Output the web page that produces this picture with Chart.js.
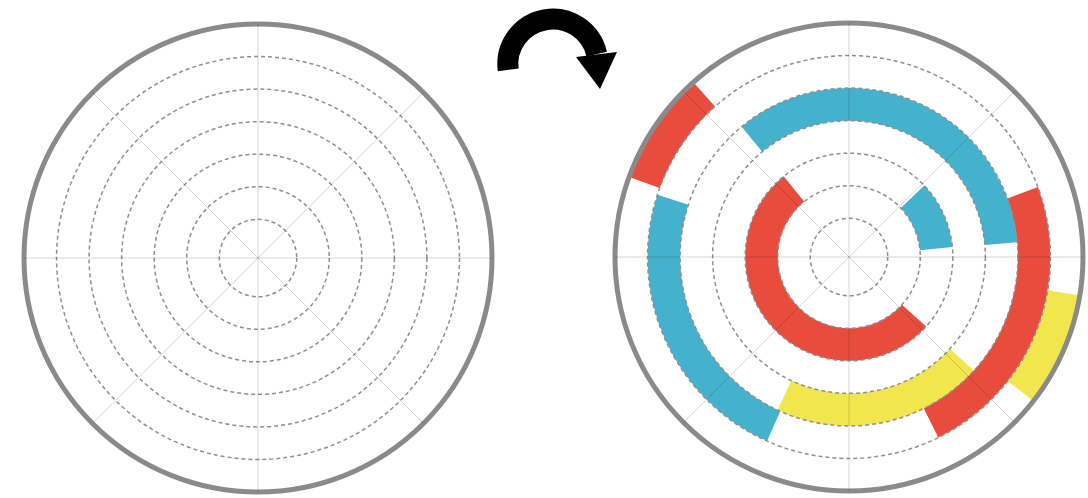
<!DOCTYPE html>
<html>
<head>
<meta charset="utf-8">
<script src="https://cdn.jsdelivr.net/npm/chart.js@4/dist/chart.umd.min.js"></script>
<style>
  body { margin: 0; background: #fff; }
  #stage { position: relative; width: 1088px; height: 498px; overflow: hidden; }
  canvas, svg { position: absolute; }
  #leftGrid { left: 20px; top: 20px; }
  #rightArcs, #rightGrid { left: 611px; top: 19px; }
  #arrow { left: 0; top: 0; }
</style>
</head>
<body>
<div id="stage">
  <canvas id="leftGrid" width="476" height="476"></canvas>
  <canvas id="rightArcs" width="476" height="476"></canvas>
  <canvas id="rightGrid" width="476" height="476"></canvas>
  <svg id="arrow" width="1088" height="120">
    <path d="M 508.2 69.9 A 45 45 0 0 1 596.7 54.1" fill="none" stroke="#000" stroke-width="21"/>
    <polygon points="576,57 617,52 600,89" fill="#000"/>
  </svg>
</div>
<script>
// radial grid: dashed rings at 1..6, solid rim at 7, 8 spokes
const ringValues = [1, 2, 3, 4, 5, 6, 7];
const spokeLabels = ['N', 'NE', 'E', 'SE', 'S', 'SW', 'W', 'NW'];
const scaleMin = -0.19;
const scaleMax = 7;

// arcs on the right chart: band = ring the arc sits on (band b spans ring b..b+1),
// angles in degrees clockwise from the top
const arcSeries = ['red', 'yellow', 'red', 'blue', 'blue', 'yellow', 'red', 'blue'];
const arcBand   = [6, 6, 5, 5, 4, 4, 2, 2];
const arcStart  = [290, 99.5, 69.7, 204, 320.5, 132.3, 132, 46.5];
const arcEnd    = [318.3, 128, 153.7, 288, 85, 205, 321, 84.5];
const bands     = [6, 5, 4, 3, 2, 1];

const palette = { red: '#e84c3d', blue: '#45b2cd', yellow: '#f2e64e' };
const clear = 'rgba(0,0,0,0)';

function gridChart(id) {
    return new Chart(document.getElementById(id), {
        type: 'polarArea',
        data: { labels: spokeLabels, datasets: [] },
        options: {
            responsive: false,
            animation: false,
            events: [],
            layout: { padding: 4 },
            plugins: { legend: { display: false }, tooltip: { enabled: false } },
            scales: {
                r: {
                    min: scaleMin,
                    max: scaleMax,
                    afterBuildTicks: s => { s.ticks = ringValues.map(v => ({ value: v })); },
                    ticks: { display: false },
                    pointLabels: { display: false },
                    grid: {
                        circular: true,
                        color: c => c.tick.value === scaleMax ? '#8a8a8a' : '#8f8f8f',
                        lineWidth: c => c.tick.value === scaleMax ? 5 : 1.5
                    },
                    border: { dash: c => c.tick.value === scaleMax ? [] : [4, 3] },
                    angleLines: { display: true, color: 'rgba(0,0,0,0.16)', lineWidth: 1 }
                }
            }
        }
    });
}

function bandSegments(band) {
    const idx = arcBand.map((b, i) => i).filter(i => arcBand[i] === band)
        .sort((a, b) => arcStart[a] - arcStart[b]);
    if (!idx.length) return { rotation: 0, data: [360], colors: [clear] };
    const data = [], colors = [];
    idx.forEach((i, k) => {
        const next = idx[(k + 1) % idx.length];
        data.push((arcEnd[i] - arcStart[i] + 360) % 360);
        colors.push(palette[arcSeries[i]]);
        data.push((arcStart[next] - arcEnd[i] + 360) % 360);
        colors.push(clear);
    });
    return { rotation: arcStart[idx[0]], data, colors };
}

const arcDatasets = bands.map(b => {
    const seg = bandSegments(b);
    return {
        label: 'band ' + b,
        data: seg.data,
        backgroundColor: seg.colors,
        rotation: seg.rotation,
        borderWidth: 0,
        hoverBorderWidth: 0,
        hoverOffset: 0
    };
});

new Chart(document.getElementById('rightArcs'), {
    type: 'doughnut',
    data: { datasets: arcDatasets },
    options: {
        responsive: false,
        animation: false,
        events: [],
        layout: { padding: 4 },
        cutout: ((1 - scaleMin) / (scaleMax - scaleMin) * 100) + '%',
        plugins: { legend: { display: false }, tooltip: { enabled: false } }
    }
});

gridChart('leftGrid');
gridChart('rightGrid');
</script>
</body>
</html>
